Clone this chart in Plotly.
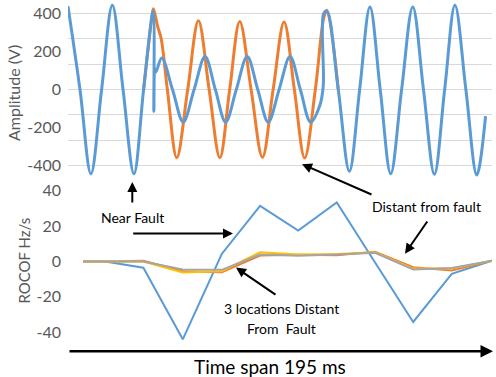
import plotly.graph_objects as go

W, H = 496, 377

# ---- top panel: voltage waveforms (time in ms, amplitude in V) ----
blue_t = [0, 5.6, 10.7, 15.7, 20.7, 25.7, 30.8, 35.3, 39.5, 39.8, 40.1, 40.5, 41.0, 43.8,
          48.8, 53.8, 58.9, 64.0, 68.8, 73.6, 78.6, 83.7, 88.6, 93.5, 98.6, 103.7, 108.5,
          113.3, 117.7, 119.2, 119.4, 120.9, 126.2, 131.4, 136.2, 141.0, 145.8, 150.7,
          155.8, 161.0, 166.0, 171.1, 175.9, 180.7, 185.8, 190.9, 195.0]
blue_v = [438, 0, -443, 0, 443, 0, -443, 0, 405, 410, -115, 110, 90, 165,
          0, -171, 0, 173, 0, -171, 0, 173, 0, -171, 0, 173, 0,
          -171, -80, 20, 400, 412, 0, -430, 0, 434, 0, -443,
          0, 434, 0, -446, 0, 443, 0, -450, -140]

orange_t = [35.3, 39.5, 39.9, 41.9, 43.5, 46.4, 50.8, 55.9, 60.9, 65.9, 70.9, 75.5, 80.2,
            85.5, 90.8, 95.8, 100.9, 105.7, 110.5, 115.5, 119.5, 120.9, 126.2]
orange_v = [0, 405, 425, 330, 268, 0, -359, 0, 361, 0, -359, 0, 358,
            0, -357, 0, 355, 0, -360, 0, 380, 417, 0]

# ---- bottom panel: ROCOF (Hz/s) ----
rocof_t = [7.1, 17.3, 35.2, 53.6, 71.8, 89.7, 107.5, 125.5, 143.4, 161.2, 179.2, 198.0]
rocof_near = [0, 0, -3.5, -44, 4.3, 31.5, 17.5, 33.4, -0.5, -34.2, -7, 0.5]
rocof_far1 = [0, 0, 0.5, -5.5, -6, 3.4, 3.8, 3.5, 5.6, -3.2, -5, 0.5]
rocof_far2 = [0, 0, 0, -6.2, -5.5, 5.2, 4.0, 4.3, 5.3, -4.0, -4.0, 0.5]
rocof_far3 = [0, 0, 0, -4.5, -4.7, 4.0, 3.3, 4.0, 5.0, -4.5, -3.7, 0.5]

top_ticks = [-400, -200, 0, 200, 400]
top_grid = [-400, -266.67, -133.33, 0, 133.33, 266.67, 400]
bot_ticks = [-40, -20, 0, 20, 40]

BLUE, ORANGE, GRAY, YELLOW = "#5B9BD5", "#ED7D31", "#A5A5A5", "#FFC000"
FONT = "Lato"
TICKC = "#595959"


def xp(px):
    return px / W


def yp(py):
    return 1 - py / H


fig = go.Figure()

fig.add_trace(go.Scatter(x=orange_t, y=orange_v, mode="lines", line=dict(color=ORANGE, width=3, shape="spline"),
                         xaxis="x", yaxis="y", hoverinfo="skip"))
fig.add_trace(go.Scatter(x=blue_t, y=blue_v, mode="lines", line=dict(color=BLUE, width=3, shape="spline"),
                         xaxis="x", yaxis="y", hoverinfo="skip"))

for vals, col in [(rocof_near, BLUE), (rocof_far1, ORANGE), (rocof_far2, YELLOW), (rocof_far3, GRAY)]:
    fig.add_trace(go.Scatter(x=rocof_t, y=vals, mode="lines", line=dict(color=col, width=2),
                             xaxis="x2", yaxis="y2", hoverinfo="skip"))

xdom = [xp(68), xp(492)]
fig.update_layout(
    width=W, height=H, margin=dict(l=0, r=0, t=0, b=0),
    paper_bgcolor="white", plot_bgcolor="rgba(0,0,0,0)", showlegend=False,
    font=dict(family=FONT, color=TICKC, size=16),
    xaxis=dict(domain=xdom, range=[0, 198], visible=False),
    yaxis=dict(domain=[yp(177.9), 1], range=[-470.6, 460], tickvals=top_ticks,
               ticktext=[str(v) for v in top_ticks], showgrid=False, zeroline=False,
               showline=False, ticks="", ticklabelstandoff=6,
               tickfont=dict(family=FONT, size=16, color=TICKC),
               minor=dict(tickvals=top_grid, showgrid=True, gridcolor="#D9D9D9", gridwidth=1, ticks="")),
    xaxis2=dict(domain=xdom, range=[0, 198], visible=False, anchor="y2"),
    yaxis2=dict(domain=[yp(351), yp(181)], range=[-50.7, 45], tickvals=bot_ticks,
                ticktext=[str(v) for v in bot_ticks], showgrid=False, zeroline=False,
                showline=False, ticks="", ticklabelstandoff=6, anchor="x2",
                tickfont=dict(family=FONT, size=16, color=TICKC)),
)

ann = []
# axis titles
ann.append(dict(text="Amplitude (V)", x=xp(13.5), y=yp(92), xref="paper", yref="paper", showarrow=False,
                textangle=-90, font=dict(family=FONT, size=16, color=TICKC), xanchor="center", yanchor="middle"))
ann.append(dict(text="ROCOF Hz/s", x=xp(24), y=yp(260), xref="paper", yref="paper", showarrow=False,
                textangle=-90, font=dict(family=FONT, size=15, color=TICKC), xanchor="center", yanchor="middle"))
# labels
black = dict(family=FONT, size=14, color="black")
ann.append(dict(text="Near Fault", x=xp(132), y=yp(217), xref="paper", yref="paper", showarrow=False,
                font=black, xanchor="center", yanchor="middle"))
ann.append(dict(text="Distant from fault", x=xp(426), y=yp(206), xref="paper", yref="paper", showarrow=False,
                font=black, xanchor="center", yanchor="middle"))
ann.append(dict(text="3 locations Distant", x=xp(281), y=yp(308), xref="paper", yref="paper", showarrow=False,
                font=black, xanchor="center", yanchor="middle"))
ann.append(dict(text="From  Fault", x=xp(281), y=yp(328), xref="paper", yref="paper", showarrow=False,
                font=black, xanchor="center", yanchor="middle"))
ann.append(dict(text="Time span 195 ms", x=xp(270), y=yp(366), xref="paper", yref="paper", showarrow=False,
                font=dict(family=FONT, size=19, color="black"), xanchor="center", yanchor="middle"))


def arrow(tail, tip, width=2):
    return dict(text="", x=xp(tip[0]), y=yp(tip[1]), xref="paper", yref="paper",
                ax=tail[0] - tip[0], ay=tail[1] - tip[1], axref="pixel", ayref="pixel",
                showarrow=True, arrowhead=2, arrowsize=1, arrowwidth=width, arrowcolor="black")


ann.append(arrow((132.3, 203), (132.3, 181)))
ann.append(arrow((131.7, 232.7), (233, 232.7)))
ann.append(arrow((277, 295), (236, 267)))
ann.append(arrow((428.3, 219.3), (405, 253)))
ann.append(arrow((373, 194), (302, 163)))
ann.append(arrow((68, 351), (493, 351), width=2.5))

fig.update_layout(annotations=ann)
fig.write_html("out.html", config={"displayModeBar": False, "staticPlot": True},
               post_script="document.body.style.margin='0';document.body.style.padding='0';"
                           "document.body.style.overflow='hidden';")
